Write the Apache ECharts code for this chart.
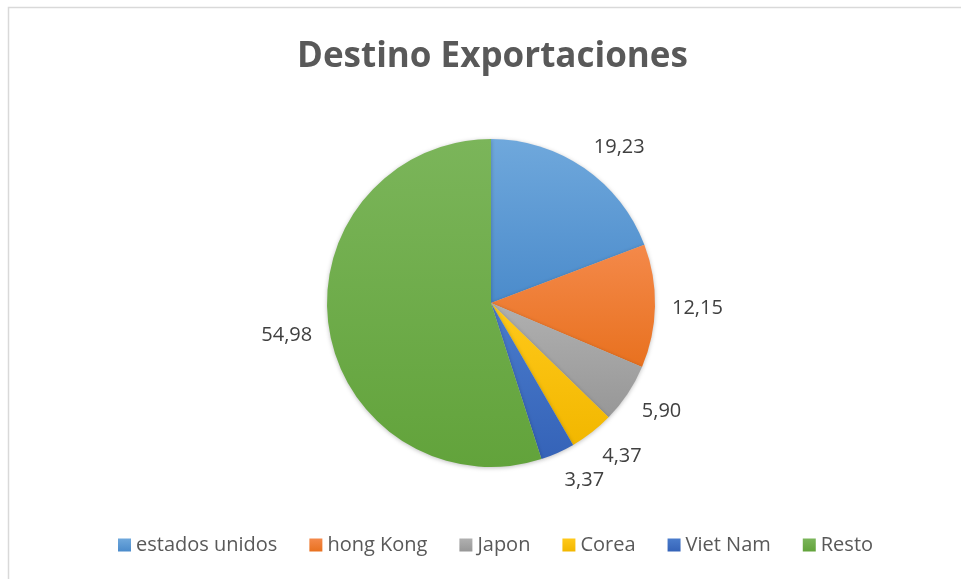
<!DOCTYPE html>
<html>
<head>
<meta charset="utf-8">
<script src="https://cdn.jsdelivr.net/npm/echarts@6/dist/echarts.min.js"></script>
<style>
html,body{margin:0;padding:0;background:#fff;}
#chart{width:961px;height:579px;}
</style>
</head>
<body>
<div id="chart"></div>
<script>
const categories = ['estados unidos', 'hong Kong', 'Japon', 'Corea', 'Viet Nam', 'Resto'];
const values = [19.23, 12.15, 5.90, 4.37, 3.37, 54.98];
const colorsTop = ['#6FA8DC', '#F4894A', '#B0B0B0', '#FFC91A', '#4A7CCC', '#7BB55A'];
const colorsBottom = ['#4B8BCB', '#E8711F', '#979797', '#F2B700', '#3563B8', '#62A33B'];

const CX = 491, CY = 303, RADIUS = 164, LABEL_GAP = 17;
const total = values.reduce((a, b) => a + b, 0);
const midAngles = [];
let acc = 0;
values.forEach(v => { midAngles.push((acc + v / 2) / total * 2 * Math.PI); acc += v; });

const chart = echarts.init(document.getElementById('chart'));
const font = '"Open Sans", sans-serif';
chart.setOption({
  animation: false,
  backgroundColor: '#fff',
  graphic: [{
    type: 'rect', shape: {x: 8.5, y: 7.5, width: 1000, height: 700},
    style: {fill: 'none', stroke: '#D9D9D9', lineWidth: 1.5}, silent: true
  }],
  title: {
    text: 'Destino Exportaciones', left: 292, top: 35,
    textStyle: {fontFamily: font, fontWeight: 'bold', fontSize: 35, color: '#595959'}
  },
  legend: {
    bottom: 19, left: 113, itemWidth: 13, itemHeight: 13, itemGap: 32,
    icon: 'rect',
    textStyle: {fontFamily: font, fontSize: 20, color: '#595959'},
    data: categories
  },
  series: [{
    type: 'pie', center: [CX, CY], radius: RADIUS, startAngle: 90, clockwise: true,
    data: categories.map((c, i) => ({
      name: c, value: values[i],
      itemStyle: {
        color: new echarts.graphic.LinearGradient(0, 0, 0, 1, [
          {offset: 0, color: colorsTop[i]}, {offset: 1, color: colorsBottom[i]}
        ]),
        borderWidth: 0
      }
    })),
    label: {
      show: true, position: 'outside',
      formatter: p => p.value.toFixed(2).replace('.', ','),
      fontFamily: font, fontSize: 20, color: '#404040'
    },
    labelLine: {show: false, length: 18, length2: 0},
    labelLayout: params => {
      const a = midAngles[params.dataIndex];
      const s = Math.sin(a), c = Math.cos(a);
      const w = params.labelRect.width / 2, h = 11;
      const r = RADIUS + LABEL_GAP;
      return {
        x: CX + r * s + w * Math.sign(s),
        y: CY - r * c - h * c + 2,
        align: 'center', verticalAlign: 'middle',
        hideOverlap: false, moveOverlap: false
      };
    },
    itemStyle: {shadowBlur: 4, shadowColor: 'rgba(0,0,0,0.25)', shadowOffsetY: 1},
    emphasis: {disabled: true}
  }]
});
</script>
</body>
</html>
